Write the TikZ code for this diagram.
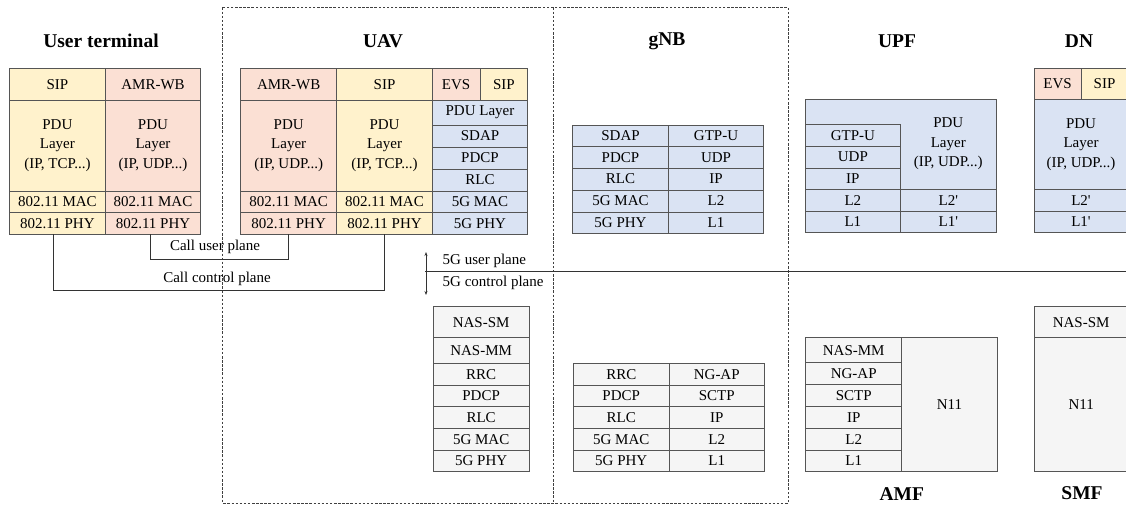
\documentclass[tikz,border=0pt]{standalone}
\usepackage{fontspec}
\setmainfont{Liberation Serif}
\usetikzlibrary{arrows.meta}
\definecolor{yel}{HTML}{FFF2CC}
\definecolor{pch}{HTML}{FBE0D4}
\definecolor{blu}{HTML}{DAE3F3}
\definecolor{gry}{HTML}{F5F5F5}
\definecolor{edge}{HTML}{555555}
\newcommand\cbx[7]{\node[cell,fill=#6,minimum width={(#4-(#2))*1pt},minimum height={(#5-(#3))*1pt}] (#1) at ({(#2+#4)/2},{(#3+#5)/2}) {#7};}
\newcommand\prm{\textquotesingle}
\begin{document}
\begin{tikzpicture}[x=1pt,y=-1pt,
  cell/.style={draw=edge,line width=0.8pt,inner sep=0pt,align=center,font=\fontsize{15}{19.5}\selectfont},
  title/.style={font=\fontsize{19.5}{21}\selectfont\bfseries},
  lbl/.style={font=\fontsize{15}{17}\selectfont,inner sep=0pt},
  conn/.style={draw=black!80,line width=0.8pt},
  dbox/.style={draw=black!75,line width=0.8pt,dash pattern=on 2.5pt off 1.6pt}]
\useasboundingbox (0,0) rectangle (1126,505);
% dashed frame
\draw[dbox] (222.7,7.5) rectangle (788.3,503);
\draw[dbox] (553.5,7.5) -- (553.5,503);
% titles
\node[title] (tUT) at (101,41) {User terminal};
\node[title] (tUAV) at (383,41) {UAV};
\node[title] (tgNB) at (667,41) {gNB};
\node[title] (tUPF) at (897,41) {UPF};
\node[title] (tDN) at (1079,41) {DN};
\node[title] (tAMF) at (901.7,494) {AMF};
\node[title] (tSMF) at (1082,493) {SMF};
% User terminal
\cbx{utS}{9.5}{68.5}{105.3}{100}{yel}{SIP}
\cbx{utA}{105.3}{68.5}{200.7}{100}{pch}{AMR-WB}
\cbx{utSpdu}{9.5}{100}{105.3}{191}{yel}{PDU\\Layer\\(IP, TCP...)}
\cbx{utApdu}{105.3}{100}{200.7}{191}{pch}{PDU\\Layer\\(IP, UDP...)}
\cbx{utSmac}{9.5}{191}{105.3}{212.5}{yel}{802.11 MAC}
\cbx{utAmac}{105.3}{191}{200.7}{212.5}{pch}{802.11 MAC}
\cbx{utSphy}{9.5}{212.5}{105.3}{234}{yel}{802.11 PHY}
\cbx{utAphy}{105.3}{212.5}{200.7}{234}{pch}{802.11 PHY}
% UAV
\cbx{uvA}{240.7}{68.5}{336.7}{100}{pch}{AMR-WB}
\cbx{uvS}{336.7}{68.5}{432.3}{100}{yel}{SIP}
\cbx{uvE}{432.3}{68.5}{480}{100}{pch}{EVS}
\cbx{uvS2}{480}{68.5}{527.7}{100}{yel}{SIP}
\cbx{uvApdu}{240.7}{100}{336.7}{191}{pch}{PDU\\Layer\\(IP, UDP...)}
\cbx{uvSpdu}{336.7}{100}{432.3}{191}{yel}{PDU\\Layer\\(IP, TCP...)}
\cbx{uvAmac}{240.7}{191}{336.7}{212.5}{pch}{802.11 MAC}
\cbx{uvSmac}{336.7}{191}{432.3}{212.5}{yel}{802.11 MAC}
\cbx{uvAphy}{240.7}{212.5}{336.7}{234}{pch}{802.11 PHY}
\cbx{uvSphy}{336.7}{212.5}{432.3}{234}{yel}{802.11 PHY}
\cbx{uvBpdu}{432.3}{100}{527.7}{125}{blu}{PDU Layer}
\cbx{uvBsdap}{432.3}{125}{527.7}{147}{blu}{SDAP}
\cbx{uvBpdcp}{432.3}{147}{527.7}{169}{blu}{PDCP}
\cbx{uvBrlc}{432.3}{169}{527.7}{191}{blu}{RLC}
\cbx{uvBmac}{432.3}{191}{527.7}{212.5}{blu}{5G MAC}
\cbx{uvBphy}{432.3}{212.5}{527.7}{234}{blu}{5G PHY}
% call planes
\draw[conn] ([xshift=-2.5pt]utAphy.south) -- ++(0,24.5) -| (uvAphy.south);
\node[lbl] (cup) at (215,246.5) {Call user plane};
\draw[conn] ([xshift=-4.5pt]utSphy.south) -- ++(0,55.5) -| (uvSphy.south);
\node[lbl] (ccp) at (217,278.5) {Call control plane};
% gNB user plane
\cbx{gU1}{572.5}{125}{668.5}{146.5}{blu}{SDAP}
\cbx{gU2}{572.5}{146.5}{668.5}{168}{blu}{PDCP}
\cbx{gU3}{572.5}{168}{668.5}{190}{blu}{RLC}
\cbx{gU4}{572.5}{190}{668.5}{212}{blu}{5G MAC}
\cbx{gU5}{572.5}{212}{668.5}{233.5}{blu}{5G PHY}
\cbx{gV1}{668.5}{125}{763.5}{146.5}{blu}{GTP-U}
\cbx{gV2}{668.5}{146.5}{763.5}{168}{blu}{UDP}
\cbx{gV3}{668.5}{168}{763.5}{190}{blu}{IP}
\cbx{gV4}{668.5}{190}{763.5}{212}{blu}{L2}
\cbx{gV5}{668.5}{212}{763.5}{233.5}{blu}{L1}
% UPF
\cbx{upBig}{805}{99.3}{996}{189.3}{blu}{}
\node[cell,draw=none] (upPdu) at (948.3,144) {PDU\\Layer\\(IP, UDP...)};
\cbx{up1}{805}{124.3}{900.7}{146}{blu}{GTP-U}
\cbx{up2}{805}{146}{900.7}{168.3}{blu}{UDP}
\cbx{up3}{805}{168.3}{900.7}{189.3}{blu}{IP}
\cbx{up4}{805}{189.3}{900.7}{211}{blu}{L2}
\cbx{up5}{805}{211}{900.7}{232.7}{blu}{L1}
\cbx{up6}{900.7}{189.3}{996}{211}{blu}{L2\prm}
\cbx{up7}{900.7}{211}{996}{232.7}{blu}{L1\prm}
% DN
\cbx{dnE}{1034}{68.5}{1081}{99.3}{pch}{EVS}
\cbx{dnS}{1081}{68.5}{1128}{99.3}{yel}{SIP}
\cbx{dnP}{1034}{99.3}{1128}{189.3}{blu}{PDU\\Layer\\(IP, UDP...)}
\cbx{dn2}{1034}{189.3}{1128}{211}{blu}{L2\prm}
\cbx{dn1}{1034}{211}{1128}{232.7}{blu}{L1\prm}
% plane separator
\coordinate (pl0) at (425,271.5);
\coordinate (pl1) at (1130,271.5);
\draw[conn] (pl0) -- (pl1);
\coordinate (ar0) at (426,252);
\coordinate (ar1) at (426,295);
\draw[conn,line width=0.7pt,{Stealth[length=4pt,width=3pt]}-{Stealth[length=4pt,width=3pt]}] (ar0) -- (ar1);
\node[lbl,anchor=west] (l5u) at (442.5,261) {5G user plane};
\node[lbl,anchor=west] (l5c) at (442.5,282.5) {5G control plane};
% UAV control plane
\cbx{uc1}{433.3}{306.7}{529}{337.7}{gry}{NAS-SM}
\cbx{uc2}{433.3}{337.7}{529}{363.3}{gry}{NAS-MM}
\cbx{uc3}{433.3}{363.3}{529}{385}{gry}{RRC}
\cbx{uc4}{433.3}{385}{529}{406.7}{gry}{PDCP}
\cbx{uc5}{433.3}{406.7}{529}{428.3}{gry}{RLC}
\cbx{uc6}{433.3}{428.3}{529}{450}{gry}{5G MAC}
\cbx{uc7}{433.3}{450}{529}{471.7}{gry}{5G PHY}
% gNB control plane
\cbx{gc1}{573.5}{363.3}{669}{385}{gry}{RRC}
\cbx{gc2}{573.5}{385}{669}{406.7}{gry}{PDCP}
\cbx{gc3}{573.5}{406.7}{669}{428.3}{gry}{RLC}
\cbx{gc4}{573.5}{428.3}{669}{450}{gry}{5G MAC}
\cbx{gc5}{573.5}{450}{669}{471.7}{gry}{5G PHY}
\cbx{gd1}{669}{363.3}{764.5}{385}{gry}{NG-AP}
\cbx{gd2}{669}{385}{764.5}{406.7}{gry}{SCTP}
\cbx{gd3}{669}{406.7}{764.5}{428.3}{gry}{IP}
\cbx{gd4}{669}{428.3}{764.5}{450}{gry}{L2}
\cbx{gd5}{669}{450}{764.5}{471.7}{gry}{L1}
% AMF
\cbx{am1}{805.7}{337.7}{901.7}{362.7}{gry}{NAS-MM}
\cbx{am2}{805.7}{362.7}{901.7}{384.3}{gry}{NG-AP}
\cbx{am3}{805.7}{384.3}{901.7}{406.7}{gry}{SCTP}
\cbx{am4}{805.7}{406.7}{901.7}{428.3}{gry}{IP}
\cbx{am5}{805.7}{428.3}{901.7}{450}{gry}{L2}
\cbx{am6}{805.7}{450}{901.7}{471.7}{gry}{L1}
\cbx{amN}{901.7}{337.7}{997.3}{471.7}{gry}{N11}
% SMF
\cbx{sm1}{1034.3}{306.7}{1128}{337.7}{gry}{NAS-SM}
\cbx{smN}{1034.3}{337.7}{1128}{471.7}{gry}{N11}
\end{tikzpicture}
\end{document}
